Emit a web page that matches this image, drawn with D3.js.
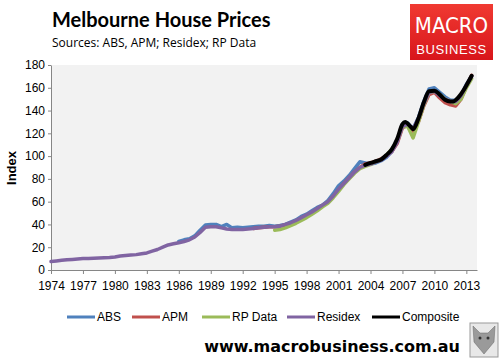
<!DOCTYPE html>
<html><head><meta charset="utf-8">
<script src="https://cdn.jsdelivr.net/npm/d3@7"></script>
<style>body{margin:0;background:#fff;}svg{display:block;}</style>
</head><body>
<svg id="c" width="503" height="364"></svg>
<script>
// ---- Data (semi-annual observations, index) ----
const seriesNames = ["ABS", "APM", "RP Data", "Residex", "Composite"];
const seriesColors = ["#4F81BD", "#C0504D", "#9BBB59", "#8064A2", "#000000"];

const absStart = 1986.0;
const absValues = [25,26.5,27.5,30,35,39.5,40,40,38,40,37,37.5,37,37.5,38,38.5,38.5,39,38.5,39,
  40,42,44,47,49,52,55,57,61,67,74,78,83,89,95,94,93,94,96,99,104,113,128,129,124,134,148,159,160,156,152,149,149,153,163,170.5];

const apmStart = 1993.0;
const apmValues = [36.5,37,37.5,38,38,38.5,39.5,41,43,45.5,48,50.5,53.5,56.5,59.5,64.5,70.5,76,81,86,90,93,94,95.5,97.5,100.5,104,111,125,127,122,130,144,154,156,151,147,145,144,150,161,171];

const rpStart = 1995.0;
const rpValues = [35,35.5,37,39,41,43.5,46,49,52,55.5,58.5,63.5,69,75,80,85,89,91,92.5,95,97,101,106,113,126,126,116,130,145,156,157,154,150,148,146,150,160,168];

const residexStart = 1974.0;
const residexValues = [7.5,8,8.5,9,9.3,9.7,10,10.2,10.3,10.5,10.8,11,11.5,12.3,12.8,13.2,13.5,14.2,15,16.5,18,20,22,23,24,25,26.5,29,33,37.5,38,38,37,36,35.5,35.5,35.5,36,36.5,37,37.5,38,38,38.5,
  40,41.5,43.5,46,48.5,51,54,57,60,65,71,76,81,86,90,92,93,95,96.5,100,104,112,126,128,124,133,146,156,157,153,150,148,148,153,162,170];

const compositeYears = [2003.5,2004,2004.5,2005,2005.5,2006,2006.5,2007,2007.25,2007.75,2008,2008.5,2009,2009.5,2010,2010.5,2011,2011.5,2011.75,2012.25,2012.75,2013,2013.5];
const compositeValues = [92.3,94,95.5,97,101,106,115,128,130,126,123.5,133,147,157,157.5,154,149.5,148,148,151.5,158,162,170.5];

const yTicks = [0,20,40,60,80,100,120,140,160,180];
const xTicks = [1974,1977,1980,1983,1986,1989,1992,1995,1998,2001,2004,2007,2010,2013];

function semi(start, vals){ return vals.map((v,i)=>({t:start+i*0.5, v})); }
const series = [
  semi(absStart, absValues),
  semi(apmStart, apmValues),
  semi(rpStart, rpValues),
  semi(residexStart, residexValues),
  compositeYears.map((t,i)=>({t, v:compositeValues[i]}))
];

// ---- Layout ----
const svg = d3.select("#c");
const L = 51, R = 477, T = 65, B = 270;
const x = d3.scaleLinear().domain([1974, 2014]).range([L, R]);
const y = d3.scaleLinear().domain([0, 180]).range([B, T]);
const font = "'Liberation Sans', Arial, sans-serif";

svg.append("rect").attr("x", L).attr("y", T).attr("width", R-L).attr("height", B-T).attr("fill", "#F2F2F2");

// axes
const xa = svg.append("g").attr("transform", `translate(0,${B})`)
  .call(d3.axisBottom(x).tickValues(xTicks).tickFormat(d3.format("d")).tickSize(4).tickSizeOuter(0));
const ya = svg.append("g").attr("transform", `translate(${L},0)`)
  .call(d3.axisLeft(y).tickValues(yTicks).tickSize(3).tickSizeOuter(0));
[xa, ya].forEach(g=>{
  g.selectAll("path,line").attr("stroke", "#868686");
  g.selectAll("text").attr("fill", "#000").style("font-family", font).style("font-size", "12px");
});
xa.selectAll("text").attr("dy", "1.05em");
ya.selectAll("text").attr("x", -6);

svg.append("text").attr("transform", "translate(16,168) rotate(-90)")
  .attr("text-anchor", "middle").style("font-family", font).style("font-size", "13px").style("font-weight", "bold").text("Index");

// lines
const line = d3.line().x(d=>x(d.t)).y(d=>y(d.v));
const lineSmooth = d3.line().curve(d3.curveMonotoneX).x(d=>x(d.t)).y(d=>y(d.v));
series.forEach((s,i)=>{
  svg.append("path").datum(s).attr("fill","none")
    .attr("stroke", seriesColors[i]).attr("stroke-width", i===4?4:3.5)
    .attr("stroke-linejoin","round").attr("stroke-linecap","round")
    .attr("d", i===4 ? lineSmooth : line);
});

// title
svg.append("text").attr("x", 52).attr("y", 27).style("font-family", "Lato, 'Open Sans', sans-serif")
  .style("font-size", "20px").style("font-weight", "bold").text("Melbourne House Prices");
svg.append("text").attr("x", 52).attr("y", 47).style("font-family", "'Open Sans', sans-serif")
  .style("font-size", "12px").text("Sources: ABS, APM; Residex; RP Data");

// logo
const defs = svg.append("defs");
const lg = defs.append("linearGradient").attr("id","lg").attr("x1",0).attr("y1",0).attr("x2",0).attr("y2",1);
lg.append("stop").attr("offset","0%").attr("stop-color","#F03A32");
lg.append("stop").attr("offset","100%").attr("stop-color","#D8151B");
svg.append("rect").attr("x",410).attr("y",4).attr("width",83).attr("height",56).attr("fill","url(#lg)");
svg.append("text").attr("x",451.5).attr("y",33).attr("text-anchor","middle").attr("fill","#fff")
  .style("font-family","'Liberation Sans Narrow', 'DejaVu Sans Condensed', sans-serif").style("font-size","22px").style("font-weight","300").text("MACRO");
svg.append("text").attr("x",451.5).attr("y",54).attr("text-anchor","middle").attr("fill","#fff")
  .style("font-family","'Liberation Sans', sans-serif").style("font-size","13px").style("letter-spacing","0.6px").text("BUSINESS");

// legend
const legX = [67, 132, 202, 287, 372];
const legY = 317;
seriesNames.forEach((n,i)=>{
  svg.append("line").attr("x1",legX[i]).attr("x2",legX[i]+28).attr("y1",legY).attr("y2",legY)
    .attr("stroke",seriesColors[i]).attr("stroke-width",3);
  svg.append("text").attr("x",legX[i]+30).attr("y",legY+4).style("font-family",font).style("font-size","12px").text(n);
});

// footer
svg.append("text").attr("x",460).attr("y",352).attr("text-anchor","end").style("font-family","'DejaVu Sans', Verdana, sans-serif")
  .style("font-size","16px").style("font-weight","bold").text("www.macrobusiness.com.au");
const w = svg.append("g");
w.append("rect").attr("x",470).attr("y",323).attr("width",28).attr("height",34).attr("fill","#e8e8e8").attr("stroke","#999");
w.append("path").attr("d","M473,326 L480,333 L488,333 L495,326 L494,342 L484,354 L474,342 Z").attr("fill","#9a9a9a").attr("stroke","#666").attr("stroke-width",0.5);
w.append("circle").attr("cx",480).attr("cy",338).attr("r",1.5).attr("fill","#333");
w.append("circle").attr("cx",488).attr("cy",338).attr("r",1.5).attr("fill","#333");
</script>
</body></html>
